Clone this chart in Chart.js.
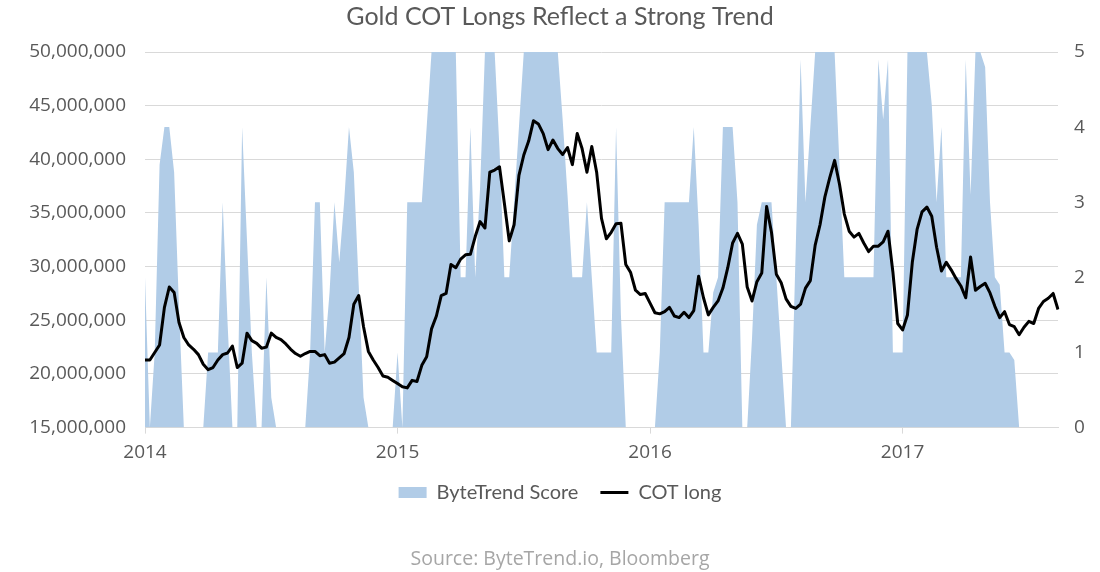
<!DOCTYPE html>
<html>
<head>
<meta charset="utf-8">
<title>Gold COT Longs Reflect a Strong Trend</title>
<script src="https://cdn.jsdelivr.net/npm/chart.js@4.4.1/dist/chart.umd.min.js"></script>
<style>
  html, body { margin: 0; padding: 0; background: #fff; }
  #wrap { width: 1100px; height: 572px; }
</style>
</head>
<body>
<div id="wrap"><canvas id="cotChart" width="1100" height="572"></canvas></div>
<script>
// Weekly COT report dates, first Tuesday of 2014 onwards
const firstReport = '2014-01-07';
const weekCount = 189;
const yearTicks = ['2014', '2015', '2016', '2017'];

// COT long positions, in millions of ounces
const cotLongMillions = [
    // 2014
    21.3, 21.3, 22.0, 22.7, 26.2, 28.1, 27.6, 24.8, 23.4, 22.7,
    22.3, 21.8, 20.9, 20.4, 20.6, 21.3, 21.8, 21.95, 22.6, 20.6,
    21.0, 23.8, 23.1, 22.85, 22.4, 22.5, 23.8, 23.4, 23.2, 22.8,
    22.3, 21.9, 21.65, 21.9, 22.1, 22.1, 21.7, 21.8, 21.0, 21.1,
    21.5, 21.9, 23.4, 26.5, 27.3, 24.4, 22.1, 21.3, 20.6, 19.8,
    19.7, 19.4,
    // 2015
    19.1, 18.8, 18.7, 19.4, 19.3, 20.8, 21.6, 24.2,
    25.4, 27.3, 27.5, 30.2, 29.9, 30.7, 31.1, 31.15, 32.8, 34.2,
    33.6, 38.8, 39.0, 39.3, 35.9, 32.4, 33.9, 38.5, 40.4, 41.7,
    43.6, 43.3, 42.4, 40.9, 41.8, 41.0, 40.45, 41.1, 39.5, 42.4,
    41.0, 38.8, 41.2, 38.8, 34.5, 32.6, 33.2, 34.0, 34.05, 30.2,
    29.45, 27.8, 27.4, 27.5,
    // 2016
    26.6, 25.7, 25.6, 25.8, 26.2, 25.4,
    25.25, 25.75, 25.25, 25.9, 29.1, 27.1, 25.5, 26.2, 26.8, 28.0,
    29.9, 32.2, 33.1, 32.1, 28.1, 26.8, 28.6, 29.4, 35.6, 33.2,
    29.3, 28.5, 27.0, 26.3, 26.1, 26.5, 28.0, 28.7, 32.0, 33.9,
    36.5, 38.3, 39.9, 37.7, 34.9, 33.3, 32.75, 33.1, 32.2, 31.4,
    31.9, 31.9, 32.3, 33.3, 29.5, 24.7,
    // 2017
    24.1, 25.5, 30.4, 33.5,
    35.1, 35.55, 34.7, 31.8, 29.6, 30.4, 29.7, 28.9, 28.2, 27.1,
    30.9, 27.8, 28.15, 28.45, 27.55, 26.3, 25.25, 25.8, 24.6, 24.4,
    23.65, 24.35, 24.9, 24.7, 26.1, 26.75, 27.05, 27.5, 26.0
];

// ByteTrend score (0 - 5)
const byteTrendScore = [
    // 2014
    2, 0, 1, 3.5, 4, 4, 3.4, 1.6, 0, 0,
    0, 0, 0, 1, 1, 1, 3, 1.4, 0, 0,
    4, 2.5, 1, 0, 0, 2, 0.4, 0, 0, 0,
    0, 0, 0, 0, 1, 3, 3, 1, 1.8, 3,
    2.2, 3, 4, 3.4, 1.9, 0.4, 0, 0, 0, 0,
    0, 0,
    // 2015
    1, 0, 3, 3, 3, 3, 4, 5,
    5, 5, 5, 5, 5, 2, 2, 4, 2, 3.2,
    5, 5, 5, 3.7, 2, 2, 3, 4, 5, 5,
    5, 5, 5, 5, 5, 5, 4.1, 3.1, 2, 2,
    2, 3, 2, 1, 1, 1, 1, 4, 1.5, 0,
    0, 0, 0, 0,
    // 2016
    0, 0, 1, 3, 3, 3,
    3, 3, 3, 4, 2.7, 1, 1, 1.8, 2, 4,
    4, 4, 3, 0, 0, 1.2, 2.7, 3, 3, 3,
    2, 1, 0, 0, 2.4, 4.9, 3, 4, 5, 5,
    5, 5, 5, 3.5, 2, 2, 2, 2, 2, 2,
    2, 4.9, 4.1, 4.9, 1, 1,
    // 2017
    1, 5, 5, 5,
    5, 5, 4.3, 3, 4, 2, 2, 2, 2, 4.9,
    3.1, 5, 5, 4.8, 3, 2, 1.9, 1, 1, 0.9,
    0, 0, 0, 0, 0, 0, 0, 0, 0
];

const weekLabels = [];
const start = new Date(firstReport + 'T00:00:00Z');
for (let i = 0; i < weekCount; i++) {
    const d = new Date(start.getTime() + i * 7 * 86400000);
    weekLabels.push(d.toISOString().slice(0, 10));
}

// show the year only on the first report of each year
function yearTickAt(index) {
    const year = weekLabels[index].slice(0, 4);
    if (index === 0 || weekLabels[index - 1].slice(0, 4) !== year) {
        return yearTicks.includes(year) ? year : null;
    }
    return null;
}

const textColor = '#595959';
const gridColor = '#d9d9d9';
const axisFont = { family: 'Open Sans', size: 19 };

const ctx = document.getElementById('cotChart').getContext('2d');
new Chart(ctx, {
    type: 'line',
    data: {
        labels: weekLabels,
        datasets: [{
            label: 'ByteTrend Score',
            data: byteTrendScore,
            yAxisID: 'yScore',
            fill: 'origin',
            backgroundColor: '#b1cce7',
            borderColor: '#b1cce7',
            borderWidth: 0,
            pointRadius: 0,
            pointStyle: 'rect',
            tension: 0,
            order: 2
        }, {
            label: 'COT long',
            data: cotLongMillions.map(v => v * 1000000),
            yAxisID: 'yCot',
            fill: false,
            backgroundColor: '#000000',
            borderColor: '#000000',
            borderWidth: 3,
            borderJoinStyle: 'round',
            pointRadius: 0,
            pointStyle: 'line',
            tension: 0,
            order: 1
        }]
    },
    options: {
        responsive: false,
        animation: false,
        devicePixelRatio: 1,
        layout: { padding: { left: 20, right: 0, top: 0, bottom: 0 } },
        plugins: {
            title: {
                display: true,
                text: 'Gold COT Longs Reflect a Strong Trend',
                color: textColor,
                font: { family: 'Lato', size: 25, weight: 'normal' },
                padding: { top: 2, bottom: 20 }
            },
            subtitle: {
                display: true,
                position: 'bottom',
                text: 'Source: ByteTrend.io, Bloomberg',
                color: '#a6a6a6',
                font: { family: 'Open Sans', size: 19.5, weight: 'normal' },
                padding: { top: 35, bottom: 1 }
            },
            legend: {
                position: 'bottom',
                labels: {
                    sort: (a, b) => a.datasetIndex - b.datasetIndex,
                    usePointStyle: true,
                    pointStyleWidth: 28,
                    boxHeight: 11,
                    padding: 22,
                    color: textColor,
                    font: { family: 'Lato', size: 20 }
                }
            },
            tooltip: { enabled: false }
        },
        scales: {
            x: {
                afterFit: scale => { scale.height = 33; },
                grid: {
                    display: true,
                    drawOnChartArea: false,
                    drawTicks: true,
                    tickLength: 6,
                    color: gridColor
                },
                border: { display: true, color: gridColor },
                ticks: {
                    autoSkip: false,
                    maxRotation: 0,
                    padding: 8,
                    color: textColor,
                    font: axisFont,
                    callback: (value, index) => yearTickAt(index)
                }
            },
            yCot: {
                position: 'left',
                min: 15000000,
                max: 50000000,
                afterFit: scale => { scale.width = 125; },
                grid: { color: gridColor, drawTicks: false },
                border: { display: false },
                ticks: {
                    stepSize: 5000000,
                    padding: 19,
                    color: textColor,
                    font: axisFont,
                    callback: value => value.toLocaleString('en-US')
                }
            },
            yScore: {
                position: 'right',
                min: 0,
                max: 5,
                afterFit: scale => { scale.width = 42; },
                grid: { drawOnChartArea: false, drawTicks: false },
                border: { display: false },
                ticks: {
                    stepSize: 1,
                    padding: 16,
                    color: textColor,
                    font: axisFont
                }
            }
        }
    }
});
</script>
</body>
</html>
